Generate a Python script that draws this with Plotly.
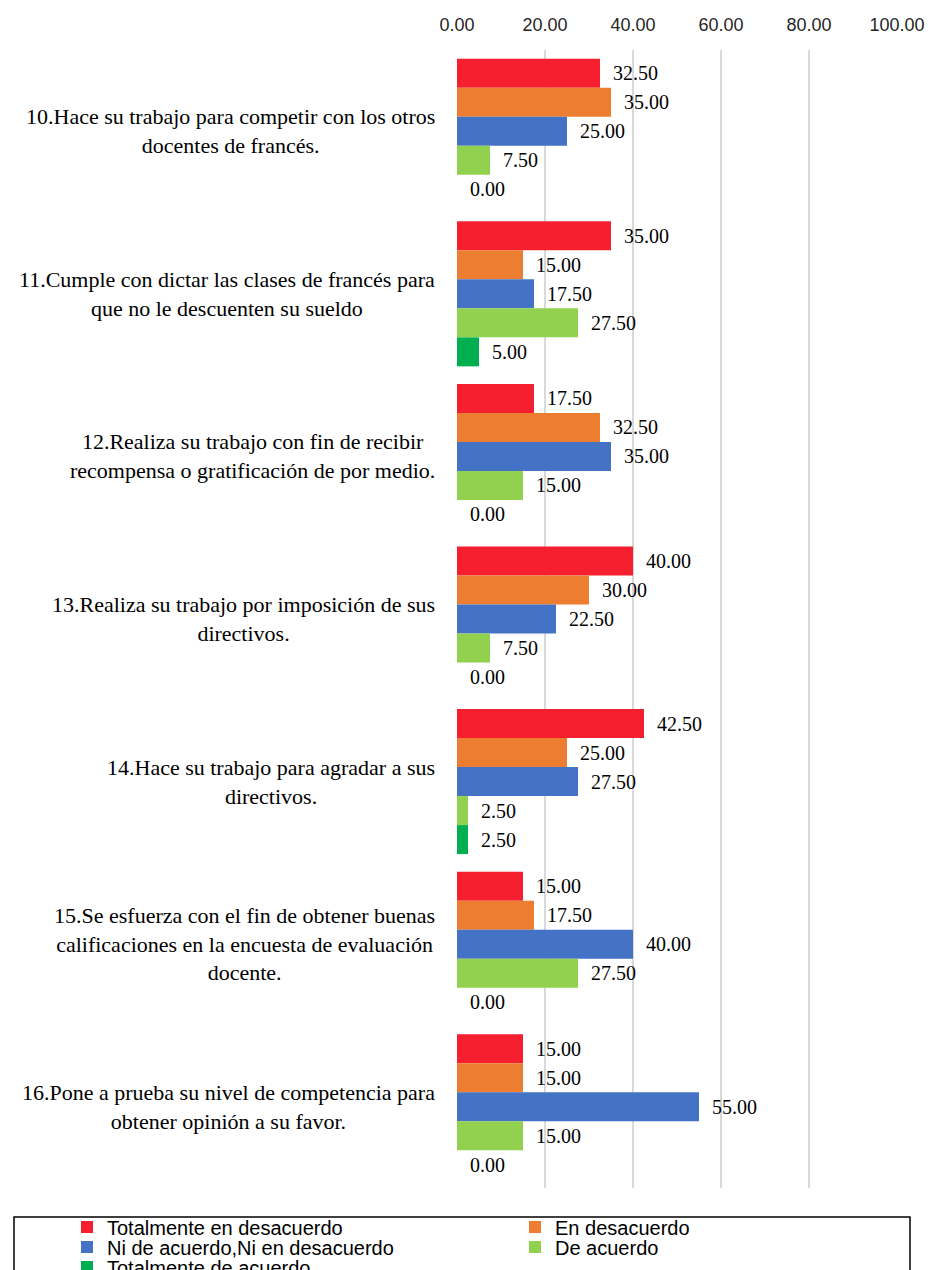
import plotly.graph_objects as go

# ---------------- data ----------------
categories = [
    "10.Hace su trabajo para competir con los otros<br>docentes de francés.",
    "11.Cumple con dictar las clases de francés para<br>que no le descuenten su sueldo",
    "12.Realiza su trabajo con fin de recibir<br>recompensa o gratificación de por medio.",
    "13.Realiza su trabajo por imposición de sus<br>directivos.",
    "14.Hace su trabajo para agradar a sus<br>directivos.",
    "15.Se esfuerza con el fin de obtener buenas<br>calificaciones en la encuesta de evaluación<br>docente.",
    "16.Pone a prueba su nivel de competencia para<br>obtener opinión a su favor.",
]
series_names = [
    "Totalmente en desacuerdo",
    "En desacuerdo",
    "Ni de acuerdo,Ni en desacuerdo",
    "De acuerdo",
    "Totalmente de acuerdo",
]
totalmente_desacuerdo = [32.5, 35.0, 17.5, 40.0, 42.5, 15.0, 15.0]
en_desacuerdo = [35.0, 15.0, 32.5, 30.0, 25.0, 17.5, 15.0]
ni_ni = [25.0, 17.5, 35.0, 22.5, 27.5, 40.0, 55.0]
de_acuerdo = [7.5, 27.5, 15.0, 7.5, 2.5, 27.5, 15.0]
totalmente_acuerdo = [0.0, 5.0, 0.0, 0.0, 2.5, 0.0, 0.0]
x_ticks = [0, 20, 40, 60, 80, 100]

series_values = [totalmente_desacuerdo, en_desacuerdo, ni_ni, de_acuerdo, totalmente_acuerdo]
colors = ["#F51F30", "#ED7D31", "#4472C4", "#92D050", "#00B050"]

# ---------------- layout geometry ----------------
W, H = 928, 1270
L, R, T, B = 457, 31, 50, 82
PW, PH = W - L - R, H - T - B


def px_x(px):
    return (px - L) / PW


def px_y(py):
    return 1 - (py - T) / PH


SERIF = "Liberation Serif, Times New Roman, serif"
SANS = "Liberation Sans, Arial, sans-serif"

# legend slots: (left px, row-centre px) for each series, two columns
legend_slots = [(67, 1227), (515, 1227), (67, 1247), (515, 1247), (67, 1267)]
legend_keys = ["legend", "legend2", "legend3", "legend4", "legend5"]

fig = go.Figure()
for name, vals, col, lg in zip(series_names, series_values, colors, legend_keys):
    fig.add_trace(go.Bar(
        y=categories, x=vals, name=name, orientation="h",
        marker=dict(color=col, line=dict(width=0)),
        texttemplate="\u00a0\u00a0%{x:.2f}", textposition="outside",
        textfont=dict(family=SERIF, size=20, color="#000000"),
        constraintext="none", cliponaxis=False, legend=lg,
        hoverinfo="skip",
    ))

annotations = []
for cat in categories:
    annotations.append(dict(
        x=0, xref="paper", y=cat, yref="y", text=cat, showarrow=False,
        xanchor="right", yanchor="middle", align="center", xshift=-20,
        font=dict(family=SERIF, size=22, color="#000000"),
    ))

legend_layout = {}
for key, (lx, ly) in zip(legend_keys, legend_slots):
    legend_layout[key] = dict(
        x=px_x(lx), y=px_y(ly), xanchor="left", yanchor="middle",
        orientation="h",
        font=dict(family=SANS, size=20, color="#000000"),
        bgcolor="rgba(0,0,0,0)", borderwidth=0,
        itemclick=False, itemdoubleclick=False,
    )

fig.update_layout(
    width=W, height=H,
    margin=dict(l=L, r=R, t=T, b=B, autoexpand=False),
    paper_bgcolor="white", plot_bgcolor="white",
    barmode="group", bargap=0.108, bargroupgap=0,
    xaxis=dict(
        side="top", range=[0, 100], tickvals=x_ticks, tickformat=".2f",
        showgrid=True, gridcolor="#D9D9D9", gridwidth=1.3,
        zeroline=False, showline=False, ticks="",
        ticklabelstandoff=14,
        tickfont=dict(family=SANS, size=18, color="#262626"),
    ),
    yaxis=dict(
        autorange="reversed", showticklabels=False, showgrid=False,
        zeroline=False, showline=False, ticks="",
    ),
    annotations=annotations,
    shapes=[dict(
        type="rect", xref="paper", yref="paper",
        x0=px_x(14), x1=px_x(910), y0=px_y(1217), y1=px_y(1290),
        line=dict(color="#000000", width=1.5), fillcolor="rgba(0,0,0,0)",
    )],
    showlegend=True,
    **legend_layout,
)

fig.write_html(
    "out.html",
    config={"displayModeBar": False, "staticPlot": True},
    post_script="document.body.style.margin='0';",
)
